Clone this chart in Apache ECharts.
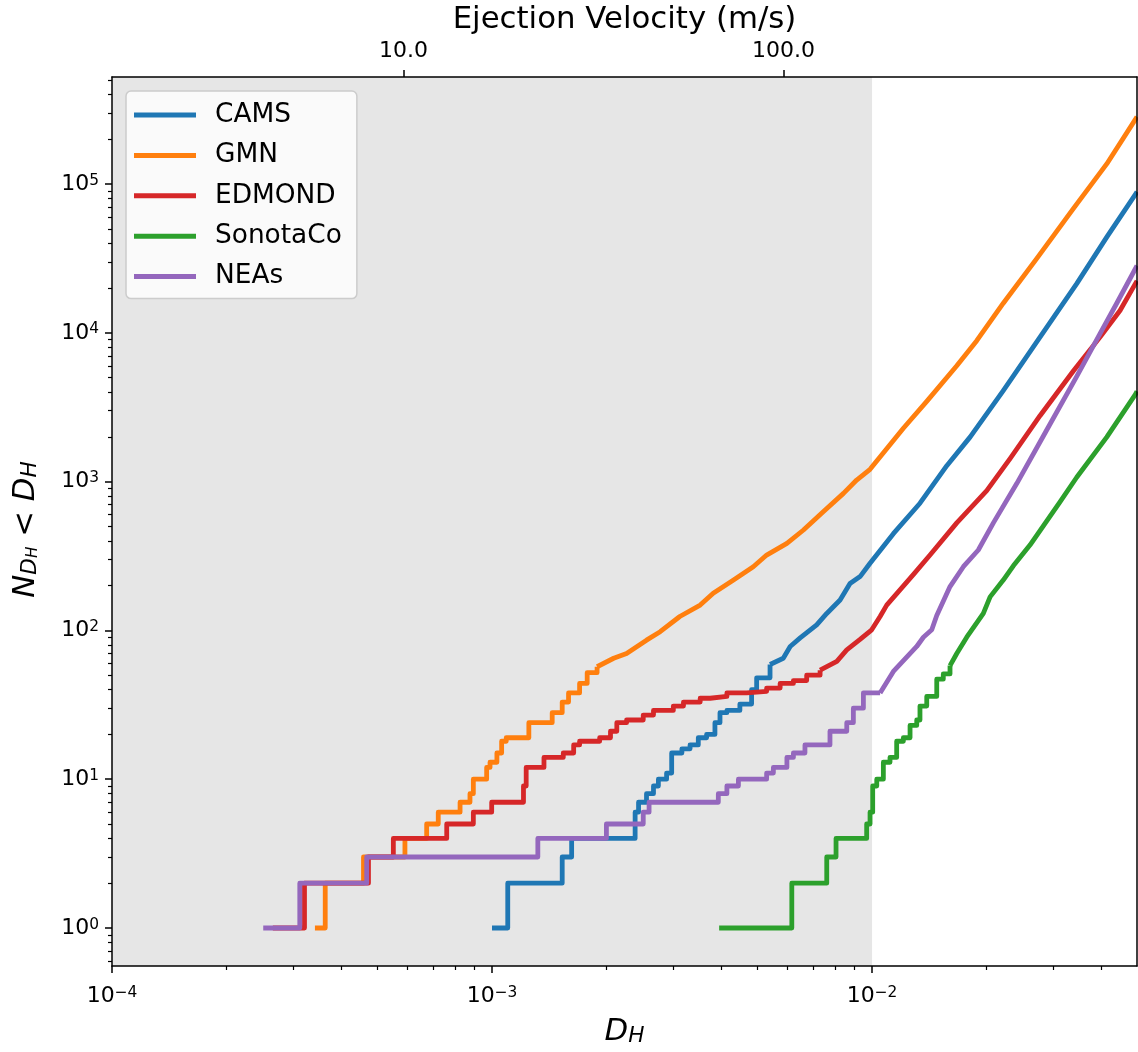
<!DOCTYPE html>
<html>
<head>
<meta charset="utf-8">
<title>Cumulative D_H distributions</title>
<script src="https://cdn.jsdelivr.net/npm/echarts@6/dist/echarts.min.js"></script>
<style>
  html, body { margin: 0; padding: 0; background: #ffffff; }
  #chart { width: 1138px; height: 1052px; }
</style>
</head>
<body>
<div id="chart"></div>
<script>
// ---- axis ranges and tick values ----
const X_MIN = 1e-4;
const X_MAX = 0.0498;
const Y_MIN = 0.5555;
const Y_MAX = 5.24e5;
const SHADE_RANGE = [1e-4, 1e-2];          // low-D_H band drawn in grey
const VEL_PER_DH = 17100;                   // ejection velocity (m/s) per unit D_H
const xTickValues = [1e-4, 1e-3, 1e-2];
const yTickValues = [1, 10, 100, 1000, 1e4, 1e5];
const velTickValues = [10, 100];
const velTickLabels = ['10.0', '100.0'];

const seriesNames = ['CAMS', 'GMN', 'EDMOND', 'SonotaCo', 'NEAs'];
const seriesColors = ['#1f77b4', '#ff7f0e', '#d62728', '#2ca02c', '#9467bd'];

// ---- cumulative counts N(<D_H): [D_H, N] ----
// low-count part, drawn as a staircase
const camsSteps = [[1.00e-3,1],[1.10e-3,2],[1.53e-3,3],[1.62e-3,4],[2.38e-3,6],[2.43e-3,7],[2.55e-3,8],[2.66e-3,9],[2.74e-3,10],[2.88e-3,11],[2.97e-3,15],[3.16e-3,16],[3.32e-3,17],[3.49e-3,19],[3.67e-3,20],[3.86e-3,24],[3.98e-3,28],[4.15e-3,29],[4.49e-3,32],[4.82e-3,40],[4.97e-3,48],[5.39e-3,59]];
const gmnSteps = [[3.42e-4,1],[3.64e-4,2],[4.59e-4,3],[5.90e-4,4],[6.73e-4,5],[7.22e-4,6],[8.24e-4,7],[8.75e-4,8],[8.93e-4,10],[9.68e-4,12],[9.88e-4,13],[1.03e-3,15],[1.06e-3,18],[1.09e-3,19],[1.25e-3,24],[1.44e-3,28],[1.53e-3,33],[1.59e-3,38],[1.70e-3,44],[1.78e-3,52],[1.89e-3,57]];
const edmondSteps = [[2.65e-4,1],[3.21e-4,2],[4.73e-4,3],[5.50e-4,4],[7.60e-4,5],[8.93e-4,6],[9.98e-4,7],[1.21e-3,9],[1.23e-3,12],[1.37e-3,14],[1.54e-3,15],[1.64e-3,17],[1.70e-3,18],[1.92e-3,19],[2.05e-3,21],[2.13e-3,24],[2.26e-3,25],[2.50e-3,27],[2.66e-3,29],[3.00e-3,31],[3.19e-3,33],[3.53e-3,35],[3.75e-3,36],[4.15e-3,38],[4.68e-3,39],[5.28e-3,41],[5.73e-3,44],[6.21e-3,46],[6.73e-3,50],[7.30e-3,54]];
const sonotacoSteps = [[3.96e-3,1],[6.15e-3,2],[7.60e-3,3],[8.04e-3,4],[9.68e-3,5],[9.88e-3,6],[1.004e-2,9],[1.029e-2,10],[1.071e-2,13],[1.115e-2,14],[1.161e-2,18],[1.209e-2,19],[1.259e-2,23],[1.311e-2,25],[1.337e-2,31],[1.393e-2,36],[1.480e-2,47],[1.540e-2,51],[1.604e-2,58]];
const neasSteps = [[2.50e-4,1],[3.12e-4,2],[4.68e-4,3],[1.32e-3,4],[2.00e-3,5],[2.50e-3,6],[2.59e-3,7],[3.94e-3,8],[4.15e-3,9],[4.45e-3,10],[5.28e-3,11],[5.50e-3,12],[5.97e-3,14],[6.21e-3,15],[6.66e-3,17],[7.75e-3,21],[8.58e-3,24],[8.93e-3,30],[9.49e-3,38],[1.05e-2,38]];

// high-count part, where single steps merge into a continuous curve
const camsTail = [[5.39e-3,59],[5.84e-3,65],[6.09e-3,78],[6.47e-3,89],[7.15e-3,109],[7.60e-3,130],[8.24e-3,160],[8.75e-3,207],[9.30e-3,230],[9.88e-3,283],[1.138e-2,447],[1.337e-2,716],[1.573e-2,1279],[1.811e-2,1991],[2.215e-2,4083],[2.767e-2,9357],[3.457e-2,21410],[4.146e-2,43970],[4.932e-2,85270],[4.98e-2,88500]];
const gmnTail = [[1.89e-3,57],[2.09e-3,65],[2.26e-3,70],[2.55e-3,86],[2.77e-3,98],[3.12e-3,124],[3.53e-3,148],[3.82e-3,178],[4.32e-3,218],[4.87e-3,268],[5.28e-3,321],[5.97e-3,385],[6.60e-3,473],[7.44e-3,628],[8.41e-3,834],[9.11e-3,1025],[9.88e-3,1210],[1.209e-2,2285],[1.393e-2,3459],[1.671e-2,6009],[1.886e-2,8850],[2.215e-2,15810],[2.712e-2,31530],[3.386e-2,68340],[4.146e-2,136500],[4.932e-2,272100],[4.98e-2,283000]];
const edmondTail = [[7.30e-3,54],[8.08e-3,62],[8.58e-3,74],[9.30e-3,87],[9.98e-3,101],[1.050e-2,124],[1.093e-2,148],[1.284e-2,237],[1.421e-2,321],[1.671e-2,528],[2.004e-2,869],[2.308e-2,1427],[2.767e-2,2773],[3.386e-2,5537],[3.981e-2,9357],[4.494e-2,14140],[4.932e-2,21410],[4.98e-2,22300]];
const sonotacoTail = [[1.604e-2,58],[1.671e-2,70],[1.775e-2,90],[1.963e-2,130],[2.045e-2,168],[2.215e-2,218],[2.354e-2,272],[2.604e-2,375],[3.124e-2,730],[3.457e-2,1070],[4.146e-2,1991],[4.932e-2,3862],[4.98e-2,4050]];
const neasTail = [[1.05e-2,38],[1.138e-2,53],[1.311e-2,78],[1.365e-2,90],[1.436e-2,101],[1.480e-2,126],[1.604e-2,197],[1.739e-2,268],[1.904e-2,347],[2.086e-2,528],[2.403e-2,970],[2.882e-2,2222],[3.457e-2,5093],[3.981e-2,9877],[4.405e-2,15810],[4.98e-2,28250]];

const stepData = [camsSteps, gmnSteps, edmondSteps, sonotacoSteps, neasSteps];
const tailData = [camsTail, gmnTail, edmondTail, sonotacoTail, neasTail];

// ---- styling helpers ----
const FONT = 'DejaVu Sans';
const BLACK = '#000000';
const FRAME_W = 1.5;
const LINE_W = 4.8;

function minorValues(lo, hi) {
  const out = [];
  const e0 = Math.floor(Math.log10(lo));
  const e1 = Math.ceil(Math.log10(hi));
  for (let e = e0; e <= e1; e++) {
    for (let k = 2; k <= 9; k++) {
      const v = k * Math.pow(10, e);
      if (v > lo && v < hi) out.push(v);
    }
  }
  return out;
}

function powLabel(v) {
  const e = Math.round(Math.log10(v));
  const s = e < 0 ? '\u2212' + (-e) : String(e);
  return '{b|10}{e|' + s + '}';
}

const powRich = {
  b: { fontFamily: FONT, fontSize: 22, lineHeight: 22, padding: [3, 0, 0, 0], color: BLACK, verticalAlign: 'bottom' },
  e: { fontFamily: FONT, fontSize: 15.4, lineHeight: 15.4, color: BLACK, verticalAlign: 'top' }
};

// math-style label pieces: italic symbols with lowered subscripts
const mathRich = {
  m:  { fontFamily: FONT, fontStyle: 'italic', fontSize: 30.8, lineHeight: 42, verticalAlign: 'bottom', color: BLACK },
  r:  { fontFamily: FONT, fontSize: 30.8, lineHeight: 42, verticalAlign: 'bottom', color: BLACK },
  s:  { fontFamily: FONT, fontStyle: 'italic', fontSize: 21.6, lineHeight: 27.6, verticalAlign: 'bottom', color: BLACK },
  ss: { fontFamily: FONT, fontStyle: 'italic', fontSize: 15.1, lineHeight: 17.2, verticalAlign: 'bottom', color: BLACK }
};

const frameLine = { show: true, lineStyle: { color: BLACK, width: FRAME_W } };
const gridBox = { left: 112, right: 1, top: 77, bottom: 86, outerBoundsMode: 'none', containLabel: false };

const series = [{
  name: 'shade',
  type: 'line',
  xAxisIndex: 0,
  yAxisIndex: 0,
  data: [],
  silent: true,
  z: 1,
  markArea: {
    silent: true,
    itemStyle: { color: 'rgba(128,128,128,0.2)' },
    data: [[{ xAxis: SHADE_RANGE[0] }, { xAxis: SHADE_RANGE[1] }]]
  }
}];

seriesNames.forEach(function (name, i) {
  const base = {
    name: name,
    type: 'line',
    xAxisIndex: 0,
    yAxisIndex: 0,
    showSymbol: false,
    symbol: 'none',
    z: 3,
    itemStyle: { color: seriesColors[i] },
    lineStyle: { color: seriesColors[i], width: LINE_W, join: 'round', cap: 'butt' },
    emphasis: { disabled: true }
  };
  series.push(Object.assign({}, base, { data: stepData[i], step: 'end' }));
  series.push(Object.assign({}, base, { data: tailData[i] }));
});

const option = {
  animation: false,
  backgroundColor: '#ffffff',
  grid: [Object.assign({}, gridBox), Object.assign({}, gridBox)],
  legend: {
    data: seriesNames,
    orient: 'vertical',
    left: 126,
    top: 91,
    icon: 'rect',
    itemWidth: 62,
    itemHeight: 5,
    itemGap: 10.4,
    padding: [9, 15, 7, 8],
    backgroundColor: 'rgba(255,255,255,0.8)',
    borderColor: '#cccccc',
    borderWidth: 1.5,
    borderRadius: 5,
    selectedMode: false,
    textStyle: { fontFamily: FONT, fontSize: 26.4, color: BLACK, lineHeight: 30, padding: [0, 0, 0, 14] }
  },
  xAxis: [
    {
      type: 'log', gridIndex: 0, position: 'bottom', z: 5,
      min: X_MIN, max: X_MAX,
      axisLine: frameLine,
      axisTick: { show: true, customValues: xTickValues, length: 7, lineStyle: { color: BLACK, width: FRAME_W } },
      axisLabel: { customValues: xTickValues, formatter: powLabel, rich: powRich, margin: 19 },
      splitLine: { show: false },
      name: '{m|D}{s|H}',
      nameLocation: 'middle',
      nameGap: 39,
      nameTextStyle: { rich: mathRich }
    },
    {
      type: 'log', gridIndex: 0, position: 'top', z: 5,
      min: X_MIN * VEL_PER_DH, max: X_MAX * VEL_PER_DH,
      axisLine: frameLine,
      axisTick: { show: true, customValues: velTickValues, length: 7, lineStyle: { color: BLACK, width: FRAME_W } },
      axisLabel: {
        customValues: velTickValues,
        formatter: function (v) { return velTickLabels[velTickValues.indexOf(v)]; },
        fontFamily: FONT, fontSize: 22, lineHeight: 22, color: BLACK, margin: 14.5
      },
      splitLine: { show: false },
      name: 'Ejection Velocity (m/s)',
      nameLocation: 'middle',
      nameGap: 34,
      nameTextStyle: { fontFamily: FONT, fontSize: 30.8, lineHeight: 31, color: BLACK }
    },
    {
      type: 'log', gridIndex: 1, position: 'bottom', z: 5,
      min: X_MIN, max: X_MAX,
      axisLine: { show: false },
      axisTick: { show: true, customValues: minorValues(X_MIN, X_MAX), length: 4, lineStyle: { color: BLACK, width: 1.2 } },
      axisLabel: { show: false },
      splitLine: { show: false }
    }
  ],
  yAxis: [
    {
      type: 'log', gridIndex: 0, position: 'left', z: 5,
      min: Y_MIN, max: Y_MAX,
      axisLine: frameLine,
      axisTick: { show: true, customValues: yTickValues, length: 7, lineStyle: { color: BLACK, width: FRAME_W } },
      axisLabel: { customValues: yTickValues, formatter: powLabel, rich: powRich, margin: 13 },
      splitLine: { show: false },
      name: '{m|N}{s|D}{ss|H}{r| < }{m|D}{s|H}',
      nameLocation: 'middle',
      nameRotate: 90,
      nameGap: 71,
      nameTextStyle: { rich: mathRich, padding: [0, 16, 0, 0] }
    },
    {
      type: 'value', gridIndex: 0, position: 'right', z: 5,
      min: 0, max: 1,
      axisLine: frameLine,
      axisTick: { show: false },
      axisLabel: { show: false },
      splitLine: { show: false }
    },
    {
      type: 'log', gridIndex: 1, position: 'left', z: 5,
      min: Y_MIN, max: Y_MAX,
      axisLine: { show: false },
      axisTick: { show: true, customValues: minorValues(Y_MIN, Y_MAX), length: 4, lineStyle: { color: BLACK, width: 1.2 } },
      axisLabel: { show: false },
      splitLine: { show: false }
    }
  ],
  series: series
};

const chart = echarts.init(document.getElementById('chart'), null, { renderer: 'canvas' });
chart.setOption(option);
</script>
</body>
</html>
